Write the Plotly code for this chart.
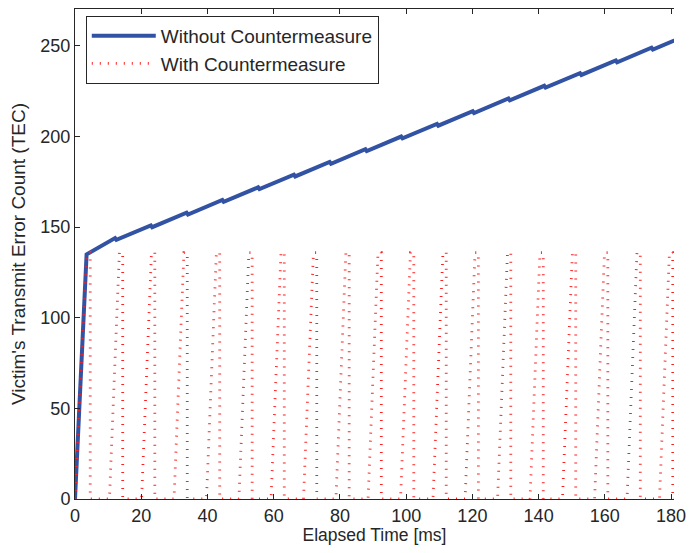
#TEC of the victim node over time, with and without the countermeasure
import plotly.graph_objects as go

#without countermeasure: fast rise, then +8 / -1 per attack period
blue_time = [0, 3.5, 12.1, 12.5, 22.9, 23.3, 33.7, 34.1, 44.5, 44.9, 55.3, 55.7,
             66.1, 66.5, 76.9, 77.3, 87.7, 88.1, 98.5, 98.9, 109.3, 109.7,
             120.1, 120.5, 130.9, 131.3, 141.7, 142.1, 152.5, 152.9, 163.3, 163.7,
             174.1, 174.5, 190.0]
blue_tec = [0, 135, 144, 143, 151, 150, 158, 157, 165, 164, 172, 171,
            179, 178, 186, 185, 193, 192, 200, 199, 207, 206,
            214, 213, 221, 220, 228, 227, 235, 234, 242, 241,
            249, 248, 260]

#with countermeasure: sawtooth, reset to 0 every period
red_time = [0, 3.5, 4.6, 4.6,
            10.4, 13.4, 14.4, 14.4,
            20.1, 23.1, 24.1, 24.1,
            29.9, 32.9, 33.9, 33.9,
            39.7, 42.7, 43.7, 43.7,
            49.5, 52.5, 53.5, 53.5,
            59.2, 62.2, 63.2, 63.2,
            69.0, 72.0, 73.0, 73.0,
            78.8, 81.8, 82.8, 82.8,
            88.5, 91.5, 92.5, 92.5,
            98.3, 101.3, 102.3, 102.3,
            108.1, 111.1, 112.1, 112.1,
            117.8, 120.8, 121.8, 121.8,
            127.6, 130.6, 131.6, 131.6,
            137.4, 140.4, 141.4, 141.4,
            147.2, 150.2, 151.2, 151.2,
            156.9, 159.9, 160.9, 160.9,
            166.7, 169.7, 170.7, 170.7,
            176.5, 179.5, 180.5, 180.5,
            186.2]
red_tec = [0, 135, 136, 0,
           0, 136, 136, 0,
           0, 136, 136, 0,
           0, 136, 136, 0,
           0, 136, 136, 0,
           0, 136, 136, 0,
           0, 136, 136, 0,
           0, 136, 136, 0,
           0, 136, 136, 0,
           0, 136, 136, 0,
           0, 136, 136, 0,
           0, 136, 136, 0,
           0, 136, 136, 0,
           0, 136, 136, 0,
           0, 136, 136, 0,
           0, 136, 136, 0,
           0, 136, 136, 0,
           0, 136, 136, 0,
           0, 136, 136, 0,
           0]

x_ticks = [0, 20, 40, 60, 80, 100, 120, 140, 160, 180]
y_ticks = [0, 50, 100, 150, 200, 250]

fig = go.Figure()
fig.add_trace(go.Scatter(x=blue_time, y=blue_tec, mode='lines',
                         name='Without Countermeasure',
                         line=dict(color='#3253a4', width=4)))
fig.add_trace(go.Scatter(x=red_time, y=red_tec, mode='lines',
                         name='With Countermeasure',
                         line=dict(color='#ff2020', width=2.8, dash='1px,7px')))

fam = 'Liberation Sans, Arial, sans-serif'
#page body has an 8px margin on every side, keep the figure inside the window
fig.update_layout(
    width=678, height=537,
    margin=dict(l=67, r=0, t=1, b=46),
    paper_bgcolor='white', plot_bgcolor='white',
    font=dict(family=fam, size=18, color='#262626'),
    showlegend=True,
    legend=dict(x=0.018, y=0.986, xanchor='left', yanchor='top',
                bordercolor='#262626', borderwidth=1, bgcolor='white',
                font=dict(family=fam, size=19, color='#262626'),
                itemwidth=64, tracegroupgap=0),
    xaxis=dict(range=[0, 180.88], tickvals=x_ticks, ticks='inside', ticklen=5,
               tickcolor='#262626', showline=True, linecolor='#262626', linewidth=1,
               mirror='ticks', showgrid=False, zeroline=False,
               ticklabeloverflow='allow',
               title=dict(text='Elapsed Time [ms]', standoff=6,
                          font=dict(family=fam, size=17.5, color='#262626'))),
    yaxis=dict(range=[0, 270.4], tickvals=y_ticks, ticks='inside', ticklen=5,
               tickcolor='#262626', showline=True, linecolor='#262626', linewidth=1,
               mirror=False, showgrid=False, zeroline=False,
               title=dict(text="Victim's Transmit Error Count (TEC)", standoff=10,
                          font=dict(family=fam, size=19, color='#262626'))),
)

fig.write_html("out.html")
